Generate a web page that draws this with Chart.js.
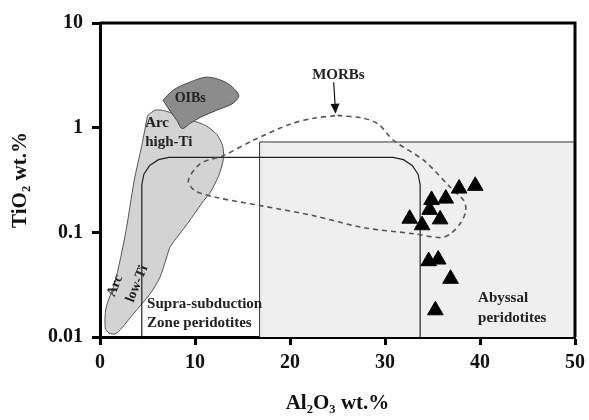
<!DOCTYPE html>
<html>
<head>
<meta charset="utf-8">
<script src="https://cdn.jsdelivr.net/npm/chart.js@4"></script>
<style>
  html, body { margin: 0; padding: 0; background: #fff; }
  #wrap { width: 589px; height: 420px; }
</style>
</head>
<body>
<div id="wrap"><canvas id="c" width="589" height="420"></canvas></div>
<script>
// samples (Al2O3, TiO2)
const sampleAl = [39.5, 37.8, 36.4, 34.9, 34.7, 32.6, 35.8, 33.9, 34.6, 35.6, 36.9, 35.3];
const sampleTi = [0.278, 0.262, 0.21, 0.204, 0.164, 0.135, 0.133, 0.117, 0.053, 0.055, 0.036, 0.018];

// field outlines
const arcAl = [5.0, 5.8, 6.8, 9.0, 11.1, 12.3, 12.9, 13.0, 12.5, 11.6, 10.9, 9.2, 7.4, 7.0, 6.3, 5.3, 3.5, 2.3, 1.6, 0.95, 0.55, 0.63, 1.6, 2.7, 3.6, 4.4, 5.0];
const arcTi = [1.3, 1.47, 1.45, 1.23, 1.05, 0.86, 0.676, 0.508, 0.349, 0.24, 0.2, 0.121, 0.073, 0.057, 0.037, 0.026, 0.0166, 0.0122, 0.0107, 0.0109, 0.0122, 0.0189, 0.034, 0.099, 0.313, 0.676, 1.3];

const oibAl = [6.65, 7.7, 9.2, 11.3, 13.4, 14.6, 14.0, 12.3, 10.6, 9.5, 8.65, 8.1, 7.1, 6.65];
const oibTi = [1.83, 2.28, 2.66, 3.04, 2.66, 2.04, 1.71, 1.47, 1.26, 1.1, 0.98, 1.17, 1.57, 1.83];

const morbAl = [25.0, 27.7, 29.3, 30.9, 34.1, 36.9, 38.3, 38.5, 38.0, 36.9, 35.9, 33.0, 27.7, 22.5, 16.9, 12.3, 10.0, 9.3, 10.6, 13.0, 16.1, 20.0, 22.5, 25.0];
const morbTi = [1.31, 1.23, 1.08, 0.755, 0.486, 0.268, 0.201, 0.161, 0.124, 0.097, 0.089, 0.097, 0.111, 0.144, 0.18, 0.215, 0.25, 0.313, 0.455, 0.542, 0.755, 1.08, 1.23, 1.31];

const sszAl = [4.4, 4.4, 4.62, 5.23, 6.16, 7.25, 30.85, 31.94, 32.87, 33.48, 33.7, 33.7];
const sszTi = [0.01, 0.286, 0.359, 0.436, 0.495, 0.52, 0.52, 0.495, 0.436, 0.359, 0.286, 0.01];

const abyssAl = [16.8, 16.8, 50, 50];
const abyssTi = [0.01, 0.73, 0.73, 0.01];

const xTicks = [0, 10, 20, 30, 40, 50];
const yTicks = [0.01, 0.1, 1, 10];

const fieldLabels = [
  { text: "OIBs", x: 9.5, y: 1.91, align: "center", size: 14 },
  { text: "Arc", x: 4.75, y: 1.10, align: "left", size: 15 },
  { text: "high-Ti", x: 4.75, y: 0.723, align: "left", size: 15 },
  { text: "MORBs", x: 25.1, y: 3.17, align: "center", size: 15 },
  { text: "Supra-subduction", x: 4.96, y: 0.0207, align: "left", size: 15 },
  { text: "Zone peridotites", x: 4.96, y: 0.0136, align: "left", size: 15 },
  { text: "Abyssal", x: 39.8, y: 0.0236, align: "left", size: 15 },
  { text: "peridotites", x: 39.8, y: 0.0152, align: "left", size: 15 },
  { text: "Arc", x: 1.58, y: 0.0308, align: "center", size: 14, rot: -68 },
  { text: "low-Ti", x: 3.9, y: 0.0322, align: "center", size: 14, rot: -68 },
];
const morbArrow = { x1: 24.6, y1: 2.72, x2: 24.8, y2: 1.36 };

const pts = (xs, ys) => xs.map((x, i) => ({ x, y: ys[i] }));
const SERIF = "'Liberation Serif', 'Times New Roman', serif";

const poly = (data, extra) => Object.assign({
  data,
  showLine: true,
  pointRadius: 0,
  pointHoverRadius: 0,
  borderWidth: 1,
  tension: 0,
}, extra);

const framePlugin = {
  id: "frame",
  afterDraw(chart) {
    const { ctx, chartArea: a } = chart;
    ctx.save();
    ctx.strokeStyle = "#000";
    ctx.lineWidth = 3;
    ctx.beginPath();
    ctx.moveTo(a.left, a.top);
    ctx.lineTo(a.right, a.top);
    ctx.lineTo(a.right, a.bottom);
    ctx.stroke();
    ctx.restore();
  },
};

const labelPlugin = {
  id: "fieldLabels",
  afterDatasetsDraw(chart) {
    const { ctx, scales: { x, y } } = chart;
    ctx.save();
    ctx.fillStyle = "#222";
    ctx.textBaseline = "middle";
    fieldLabels.forEach((l) => {
      ctx.save();
      ctx.font = `bold ${l.size}px ${SERIF}`;
      ctx.textAlign = l.align;
      ctx.translate(x.getPixelForValue(l.x), y.getPixelForValue(l.y));
      if (l.rot) ctx.rotate((l.rot * Math.PI) / 180);
      ctx.fillText(l.text, 0, 0);
      ctx.restore();
    });

    const ax = x.getPixelForValue(morbArrow.x1), ay = y.getPixelForValue(morbArrow.y1);
    const bx = x.getPixelForValue(morbArrow.x2), by = y.getPixelForValue(morbArrow.y2);
    const ang = Math.atan2(by - ay, bx - ax);
    ctx.strokeStyle = "#111";
    ctx.lineWidth = 1.2;
    ctx.beginPath();
    ctx.moveTo(ax, ay);
    ctx.lineTo(bx - 8 * Math.cos(ang), by - 8 * Math.sin(ang));
    ctx.stroke();
    ctx.fillStyle = "#111";
    ctx.beginPath();
    ctx.moveTo(bx, by);
    ctx.lineTo(bx - 10 * Math.cos(ang) + 4.5 * Math.sin(ang), by - 10 * Math.sin(ang) - 4.5 * Math.cos(ang));
    ctx.lineTo(bx - 10 * Math.cos(ang) - 4.5 * Math.sin(ang), by - 10 * Math.sin(ang) + 4.5 * Math.cos(ang));
    ctx.closePath();
    ctx.fill();
    ctx.restore();
  },
};

new Chart(document.getElementById("c"), {
  type: "scatter",
  data: {
    datasets: [
      {
        data: pts(sampleAl, sampleTi),
        pointStyle: "triangle",
        pointRadius: 9,
        pointHoverRadius: 9,
        backgroundColor: "#000",
        borderColor: "#000",
        borderWidth: 1,
        order: 0,
      },
      poly(pts(morbAl, morbTi), { borderColor: "#555", borderWidth: 1.6, borderDash: [5, 4], fill: false, tension: 0.3, order: 1 }),
      poly(pts(sszAl, sszTi), { borderColor: "#222", borderWidth: 1.2, fill: false, order: 2 }),
      poly(pts(oibAl, oibTi), { borderColor: "#444", backgroundColor: "#8c8c8c", fill: "shape", tension: 0.3, order: 3 }),
      poly(pts(arcAl, arcTi), { borderColor: "#555", backgroundColor: "#d3d3d3", fill: "shape", tension: 0.25, order: 4 }),
      poly(pts(abyssAl, abyssTi), { borderColor: "#333", backgroundColor: "#efefef", fill: "start", order: 5 }),
    ],
  },
  options: {
    responsive: false,
    animation: false,
    events: [],
    layout: { padding: { top: 23, right: 14, left: 0, bottom: 0 } },
    plugins: { legend: { display: false }, tooltip: { enabled: false } },
    scales: {
      x: {
        type: "linear",
        min: 0,
        max: 50,
        afterBuildTicks: (s) => { s.ticks = xTicks.map((value) => ({ value })); },
        afterFit: (s) => { s.height = 83; s.paddingLeft = 0; s.paddingRight = 0; },
        grid: { drawOnChartArea: false, tickLength: 8, tickWidth: 3, tickColor: "#000" },
        border: { display: true, width: 3, color: "#000" },
        ticks: { color: "#111", padding: 6, font: { family: SERIF, size: 20, weight: "bold" } },
        title: {
          display: true,
          text: "Al₂O₃ wt.%",
          color: "#111",
          padding: { top: 14, bottom: 4 },
          font: { family: SERIF, size: 21, weight: "bold" },
        },
      },
      y: {
        type: "logarithmic",
        min: 0.01,
        max: 10,
        afterBuildTicks: (s) => { s.ticks = yTicks.map((value) => ({ value })); },
        afterFit: (s) => { s.width = 100; s.paddingTop = 0; s.paddingBottom = 0; },
        grid: { drawOnChartArea: false, tickLength: 8, tickWidth: 3, tickColor: "#000" },
        border: { display: true, width: 3, color: "#000" },
        ticks: {
          color: "#111",
          padding: 9,
          font: { family: SERIF, size: 20, weight: "bold" },
          callback: (v) => String(v),
        },
        title: {
          display: true,
          text: "TiO₂ wt.%",
          color: "#111",
          padding: { top: 8, bottom: 6 },
          font: { family: SERIF, size: 21, weight: "bold" },
        },
      },
    },
  },
  plugins: [framePlugin, labelPlugin],
});
</script>
</body>
</html>
